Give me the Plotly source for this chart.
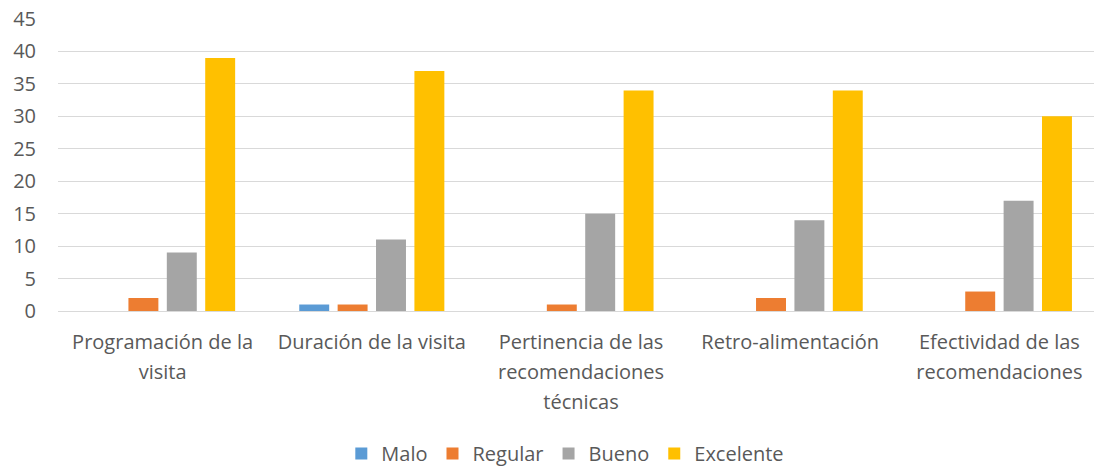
import plotly.graph_objects as go

categories = [
    "Programación de la<br>visita",
    "Duración de la visita",
    "Pertinencia de las<br>recomendaciones<br>técnicas",
    "Retro-alimentación",
    "Efectividad de las<br>recomendaciones",
]
series_names = ["Malo", "Regular", "Bueno", "Excelente"]
malo = [0, 1, 0, 0, 0]
regular = [2, 1, 1, 2, 3]
bueno = [9, 11, 15, 14, 17]
excelente = [39, 37, 34, 34, 30]
y_ticks = [0, 5, 10, 15, 20, 25, 30, 35, 40, 45]

colors = ["#5B9BD5", "#ED7D31", "#A5A5A5", "#FFC000"]
values = [malo, regular, bueno, excelente]

# tick text: same words, larger line spacing via outer font size
ticktext = ["<br>".join("<span style='font-size:20px'>%s</span>" % ln for ln in c.split("<br>"))
            for c in categories]

fig = go.Figure()
for name, vals, c in zip(series_names, values, colors):
    fig.add_trace(go.Bar(x=categories, y=vals, name=name, marker=dict(color=c, line=dict(width=0))))

font_fam = "Open Sans, Noto Sans, sans-serif"
fig.update_layout(
    width=1104, height=466,
    margin=dict(l=58, r=0, t=19, b=155, autoexpand=False),
    paper_bgcolor="white", plot_bgcolor="white",
    barmode="group", bargap=0.266, bargroupgap=0.22,
    font=dict(family=font_fam, size=20, color="#595959"),
    showlegend=True,
    legend=dict(orientation="h", x=0.485, xanchor="center", y=-0.421, yanchor="top",
                font=dict(size=20, color="#595959"), traceorder="normal"),
    xaxis=dict(showgrid=False, showline=False, ticks="", automargin=False,
               tickmode="array", tickvals=categories, ticktext=ticktext,
               tickfont=dict(size=23, color="#595959"), ticklabelstandoff=14),
    yaxis=dict(range=[0, 45], tickvals=y_ticks, showgrid=True, gridcolor="#D9D9D9", gridwidth=1.3,
               zeroline=True, zerolinecolor="#D9D9D9", zerolinewidth=1.3, showline=False, automargin=False,
               ticklabeloverflow="allow",
               ticks="", tickfont=dict(size=20, color="#595959"), ticklabelstandoff=21),
)
fig.write_html("out.html", config={"displayModeBar": False},
               post_script="document.body.style.margin='0';document.body.style.overflow='hidden';")
